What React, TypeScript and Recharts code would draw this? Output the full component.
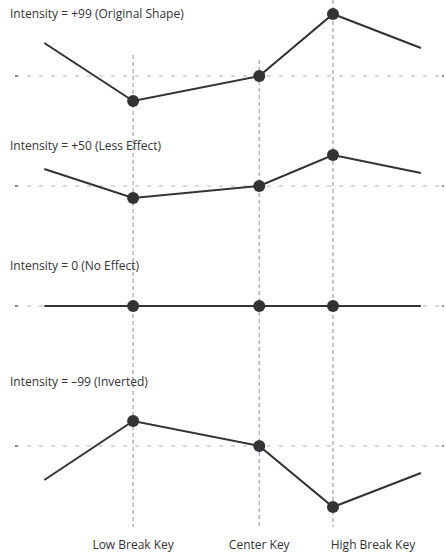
import React from "react";
import { LineChart, Line, XAxis, YAxis, ReferenceLine } from "recharts";

// key positions along the keyboard (start, low break, center, high break, end)
const keyPos = [0, 10, 24.2, 32.5, 42.4];
const tickKeys = [10, 24.2, 32.5];
const tickNames = ["Low Break Key", "Center Key", "High Break Key"];

// curve offsets from the centre level for each intensity setting
const intensity99 = [33, -25, 0, 62, 28];
const intensity50 = [17, -12, 0, 31, 13];
const intensity0 = [0, 0, 0, 0, 0];
const intensityMinus99 = [-34, 25, 0, -61, -27];

const titles = [
  "Intensity = +99 (Original Shape)",
  "Intensity = +50 (Less Effect)",
  "Intensity = 0 (No Effect)",
  "Intensity = \u201399 (Inverted)",
];

// layout: centre level of each panel and title baselines (px from top)
const levels = [76, 186, 306, 446];
const titleBase = [19, 151, 271, 387];
const vTops = [55, 60, 0];

const series = [intensity99, intensity50, intensity0, intensityMinus99];
const keys = ["p99", "p50", "p0", "m99"];

const data = keyPos.map((x, i) => {
  const row: { [k: string]: number } = { x };
  series.forEach((s, j) => {
    row[keys[j]] = levels[j] - s[i];
  });
  return row;
});

const FONT = "'Open Sans', 'Noto Sans', sans-serif";
const DARK = "#333333";
const GRID = "#aeb5c0";
const X_MIN = -3.3;
const X_MAX = 45;

const renderDot = (p: any) => {
  const { cx, cy, index, key } = p;
  if (index === 0 || index === keyPos.length - 1) return <g key={key ?? index} />;
  return <circle key={key ?? index} cx={cx} cy={cy} r={6} fill={DARK} stroke="none" />;
};

const renderTick = (p: any) => {
  const { x, y, payload, index } = p;
  const shift = index === 2 ? 40 : 0;
  return (
    <text x={x + shift} y={y} dy="0.71em" textAnchor="middle" fill={DARK} fontSize={12} fontFamily={FONT}>
      {tickNames[tickKeys.indexOf(payload.value)]}
    </text>
  );
};

export default function App() {
  return (
    <div style={{ position: "absolute", left: 0, top: 0, width: 446, height: 556, background: "#fff" }}>
      <LineChart width={446} height={556} data={data} margin={{ top: 0, right: 2, left: 15, bottom: 0 }}>
        <XAxis
          dataKey="x"
          type="number"
          domain={[X_MIN, X_MAX]}
          ticks={tickKeys}
          axisLine={false}
          tickLine={false}
          tickMargin={4}
          height={26}
          tick={renderTick}
        />
        <YAxis hide reversed type="number" domain={[0, 530]} />
        {levels.map((lv) => (
          <ReferenceLine key={"h" + lv} y={lv} stroke={GRID} strokeDasharray="4 8" strokeWidth={1} />
        ))}
        {levels.map((lv) => (
          <ReferenceLine
            key={"l" + lv}
            segment={[{ x: X_MIN, y: lv }, { x: X_MIN + 0.3, y: lv }]}
            stroke={DARK}
            strokeWidth={1}
          />
        ))}
        {levels.map((lv) => (
          <ReferenceLine
            key={"r" + lv}
            segment={[{ x: X_MAX - 0.25, y: lv }, { x: X_MAX, y: lv }]}
            stroke={DARK}
            strokeWidth={1}
          />
        ))}
        {tickKeys.map((k, i) => (
          <ReferenceLine
            key={"v" + k}
            segment={[{ x: k, y: vTops[i] }, { x: k, y: 527 }]}
            stroke={GRID}
            strokeDasharray="4 3"
            strokeWidth={1.5}
          />
        ))}
        {keys.map((k) => (
          <Line
            key={k}
            dataKey={k}
            type="linear"
            stroke={DARK}
            strokeWidth={2}
            dot={renderDot}
            activeDot={false}
            isAnimationActive={false}
          />
        ))}
      </LineChart>
      {titles.map((t, i) => (
        <div
          key={t}
          style={{
            position: "absolute",
            left: 10,
            top: titleBase[i] - 11,
            fontFamily: FONT,
            fontSize: 12,
            lineHeight: "12px",
            color: DARK,
            whiteSpace: "nowrap",
          }}
        >
          {t}
        </div>
      ))}
    </div>
  );
}
